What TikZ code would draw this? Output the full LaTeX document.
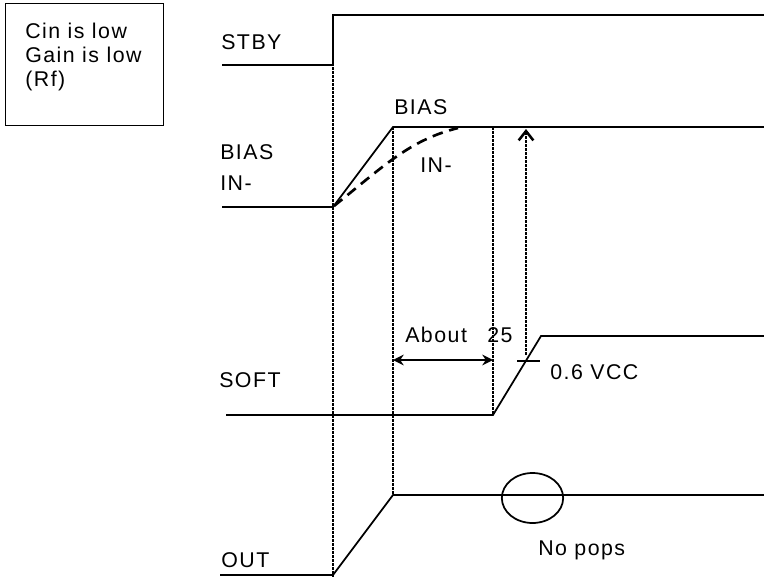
\documentclass[tikz,border=0pt]{standalone}
\usepackage{fontspec}
\setmainfont[LetterSpace=7]{Liberation Sans}
\usetikzlibrary{arrows.meta,positioning,calc,shapes.geometric}

\begin{document}
\begin{tikzpicture}[
    x=0.75pt, y=-0.75pt,
    font=\fontsize{16}{18}\selectfont,
    wave/.style={draw=black, line width=1.3pt},
    guide/.style={draw=black, line width=1.6pt, dash pattern=on 2pt off 1pt},
    lbl/.style={anchor=base west, inner sep=0pt},
    dimarrow/.style={{Stealth[length=8pt,width=8pt]}-{Stealth[length=8pt,width=8pt]}, line width=1.5pt}
]
    \useasboundingbox (0,0) rectangle (764,578);

    % Note box
    \node[draw, line width=1.1pt, anchor=north west, inner sep=0pt,
          minimum width=118.5pt, minimum height=91.5pt] (note) at (5,3) {};
    \node[lbl] (cin) at (25,38) {Cin is low};
    \node[lbl] (gain) at (25,62) {Gain is low};
    \node[lbl] (rf) at (25,86) {(Rf)};

    % Signal names
    \node[lbl] (stby) at (221,49) {STBY};
    \node[lbl] (bias) at (220,159) {BIAS};
    \node[lbl] (inm) at (220,190) {IN-};
    \node[lbl] (soft) at (219,387) {SOFT};
    \node[lbl] (out) at (221,567) {OUT};

    % STBY
    \draw[wave] (222,65) -- (333,65) -- (333,15) -- (764,15);

    % BIAS / IN-
    \draw[wave] (222,207) -- (333,207) -- (393,127) -- (764,127);
    \draw[wave, line width=2pt, dash pattern=on 8pt off 5pt] (334,206) .. controls (385,165) and (410,140) .. (458,128);
    \node[lbl] (biaslbl) at (394,114) {BIAS};
    \node[lbl] (inlbl) at (420,172) {IN-};

    % SOFT
    \draw[wave] (226,415) -- (493,415) -- (541,336) -- (764,336);
    \draw[wave] (517,361) -- (540,361);
    \node[lbl] (vcc) at (550,379) {0.6 VCC};

    % OUT
    \draw[wave] (220,575) -- (333,575) -- (393,495) -- (764,495);
    \node[draw, ellipse, line width=1.3pt, minimum width=46pt, minimum height=37.5pt, inner sep=0pt] (pop) at (532.5,498) {};
    \node[lbl] (nopops) at (538,555) {No pops};

    % Guide lines
    \draw[guide] (333,15) -- (333,577);
    \draw[guide] (393,127) -- (393,495);
    \draw[guide] (493,127) -- (493,415);
    \draw[guide, -{Straight Barb[length=7pt,width=11pt]}, line width=1.9pt] (526,355) -- (526,129);

    % About 25
    \draw[dimarrow] (393,360) -- (493,360);
    \node[lbl] (about) at (405,342) {About};
    \node[lbl] (twentyfive) at (487,342) {25};
\end{tikzpicture}
\end{document}
